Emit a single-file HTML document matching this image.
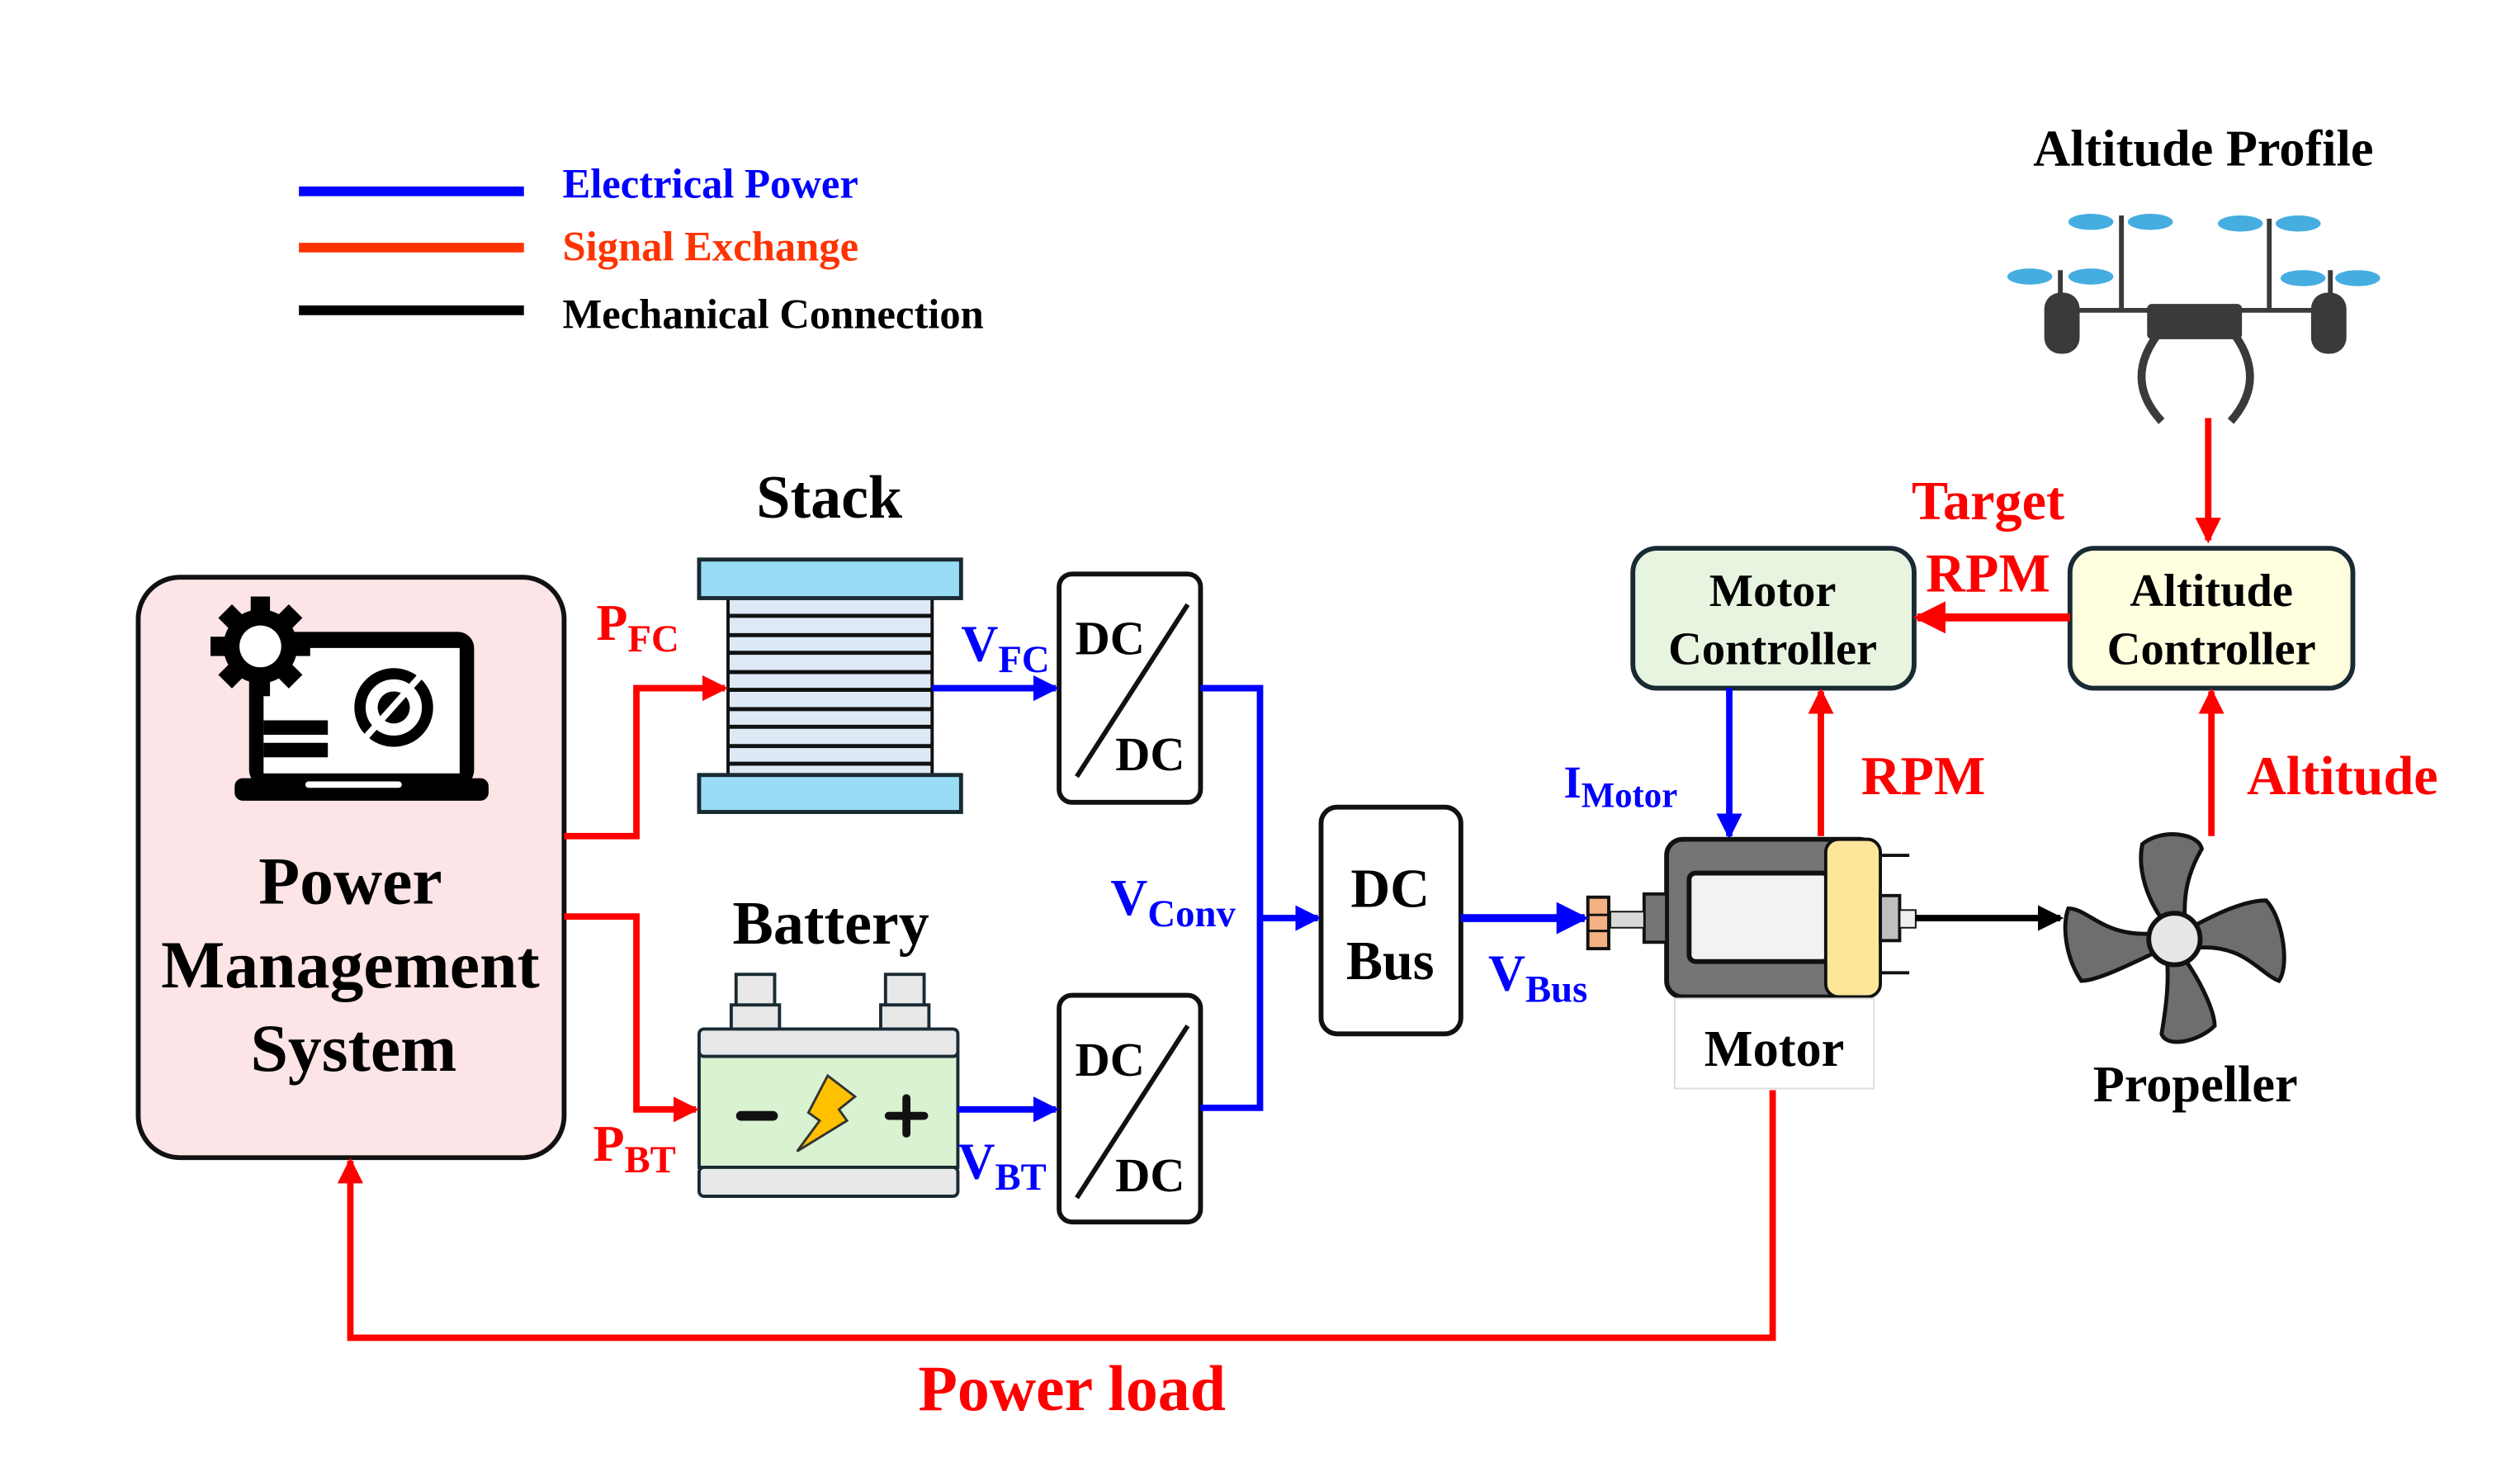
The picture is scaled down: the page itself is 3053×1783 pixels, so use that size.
<!DOCTYPE html>
<html><head><meta charset="utf-8"><style>
html,body{margin:0;padding:0;background:#fff;}
svg{display:block;}
text{font-family:"Liberation Serif",serif;font-weight:bold;}
</style></head><body>
<svg width="3053" height="1783" viewBox="0 0 1568 915.5" preserveAspectRatio="none" xmlns="http://www.w3.org/2000/svg">
<defs>
<marker id="ar" markerWidth="4" markerHeight="4" refX="3.5" refY="2" orient="auto" markerUnits="strokeWidth"><path d="M0,0 L4,2 L0,4 Z" fill="#ff0000"/></marker>
<marker id="ab" markerWidth="4" markerHeight="4" refX="3.5" refY="2" orient="auto" markerUnits="strokeWidth"><path d="M0,0 L4,2 L0,4 Z" fill="#0000ff"/></marker>
<marker id="ak" markerWidth="4" markerHeight="4" refX="3.5" refY="2" orient="auto" markerUnits="strokeWidth"><path d="M0,0 L4,2 L0,4 Z" fill="#000"/></marker>
</defs>
<rect width="1600" height="920" fill="#fff"/>
<!-- legend -->
<line x1="186" y1="119" x2="326" y2="119" stroke="#0000ff" stroke-width="6"/>
<line x1="186" y1="154" x2="326" y2="154" stroke="#ff3300" stroke-width="6"/>
<line x1="186" y1="193" x2="326" y2="193" stroke="#000" stroke-width="6"/>
<text x="350" y="123" font-size="26" fill="#0000ff">Electrical Power</text>
<text x="350" y="162" font-size="26" fill="#ff3300">Signal Exchange</text>
<text x="350" y="204" font-size="26" fill="#000">Mechanical Connection</text>

<!-- altitude profile & drone -->
<text x="1371" y="103" font-size="32" text-anchor="middle">Altitude Profile</text>
<g fill="#45ade0">
<ellipse cx="1301" cy="138" rx="14" ry="5"/><ellipse cx="1338" cy="138" rx="14" ry="5"/>
<ellipse cx="1394" cy="139" rx="14" ry="5"/><ellipse cx="1430" cy="139" rx="14" ry="5"/>
<ellipse cx="1263" cy="172" rx="14" ry="5"/><ellipse cx="1301" cy="172" rx="14" ry="5"/>
<ellipse cx="1433" cy="173" rx="14" ry="5"/><ellipse cx="1467" cy="173" rx="14" ry="5"/>
</g>
<g stroke="#3a3a3a" stroke-width="3" fill="none">
<line x1="1320" y1="134" x2="1320" y2="194"/><line x1="1412" y1="136" x2="1412" y2="194"/>
<line x1="1282" y1="168" x2="1282" y2="186"/><line x1="1450" y1="168" x2="1450" y2="186"/>
<line x1="1283" y1="193" x2="1450" y2="193"/>
<path d="M1345,205 Q1320,235 1345,262" stroke-width="5"/>
<path d="M1388,205 Q1412,235 1388,262" stroke-width="5"/>
</g>
<rect x="1272" y="182" width="22" height="38" rx="10" fill="#3a3a3a"/>
<rect x="1438" y="182" width="22" height="38" rx="10" fill="#3a3a3a"/>
<rect x="1336" y="189" width="59" height="22" rx="3" fill="#3a3a3a"/>

<line x1="1374" y1="260" x2="1374" y2="336" stroke="#ff0000" stroke-width="4" marker-end="url(#ar)"/>
<text x="1237" y="323" font-size="34" fill="#ff0000" text-anchor="middle">Target</text>
<text x="1237" y="368" font-size="34" fill="#ff0000" text-anchor="middle">RPM</text>

<!-- controllers -->
<rect x="1016" y="341" width="175" height="87" rx="15" fill="#e6f4e0" stroke="#1a2a33" stroke-width="3"/>
<text x="1103" y="377" font-size="29" text-anchor="middle">Motor</text>
<text x="1103" y="413" font-size="29" text-anchor="middle">Controller</text>
<rect x="1288" y="341" width="176" height="87" rx="15" fill="#ffffe0" stroke="#1a2a33" stroke-width="3"/>
<text x="1376" y="377" font-size="29" text-anchor="middle">Altitude</text>
<text x="1376" y="413" font-size="29" text-anchor="middle">Controller</text>
<line x1="1288" y1="384" x2="1193" y2="384" stroke="#ff0000" stroke-width="5" marker-end="url(#ar)"/>

<line x1="1076" y1="428" x2="1076" y2="520" stroke="#0000ff" stroke-width="4" marker-end="url(#ab)"/>
<line x1="1133" y1="520" x2="1133" y2="430" stroke="#ff0000" stroke-width="4" marker-end="url(#ar)"/>
<line x1="1376" y1="520" x2="1376" y2="430" stroke="#ff0000" stroke-width="4" marker-end="url(#ar)"/>
<text x="973" y="496" font-size="28" fill="#0000ff">I<tspan font-size="22" dy="6">Motor</tspan></text>
<text x="1158" y="494" font-size="34" fill="#ff0000">RPM</text>
<text x="1398" y="494" font-size="34" fill="#ff0000">Altitude</text>

<!-- motor -->
<rect x="1037" y="522" width="130" height="98" rx="10" fill="#757575" stroke="#111" stroke-width="3"/>
<rect x="1051" y="543" width="87" height="55" rx="4" fill="#f2f2f2" stroke="#111" stroke-width="3"/>
<rect x="1136" y="522" width="34" height="98" rx="8" fill="#fde69a" stroke="#111" stroke-width="2"/>
<line x1="1170" y1="532" x2="1188" y2="532" stroke="#111" stroke-width="2"/>
<line x1="1170" y1="605" x2="1188" y2="605" stroke="#111" stroke-width="2"/>
<rect x="1023" y="556" width="14" height="30" fill="#757575" stroke="#111" stroke-width="2"/>
<rect x="1002" y="567" width="21" height="10" fill="#d9d9d9" stroke="#111" stroke-width="1"/>
<rect x="988" y="558" width="13" height="32" fill="#f4b183" stroke="#111" stroke-width="2"/>
<line x1="988" y1="569" x2="1001" y2="569" stroke="#111" stroke-width="1.5"/>
<line x1="988" y1="579" x2="1001" y2="579" stroke="#111" stroke-width="1.5"/>
<rect x="1170" y="557" width="12" height="28" fill="#bfbfbf" stroke="#111" stroke-width="2"/>
<rect x="1182" y="566" width="10" height="11" fill="#eee" stroke="#111" stroke-width="1"/>
<rect x="1042" y="621" width="124" height="56" fill="#fff" stroke="#ddd" stroke-width="1"/>
<text x="1104" y="663" font-size="32" text-anchor="middle">Motor</text>
<line x1="1192" y1="571" x2="1282" y2="571" stroke="#000" stroke-width="4" marker-end="url(#ak)"/>

<!-- propeller -->
<g fill="#6e6e6e" stroke="#111" stroke-width="2.5">
<path d="M1350,578 C1335,560 1330,540 1333,525 C1345,515 1368,518 1370,528 C1360,545 1358,560 1360,580 Z"/>
<path d="M1358,580 C1375,570 1395,560 1410,560 C1420,570 1425,600 1418,610 C1405,605 1395,585 1362,590 Z"/>
<path d="M1356,592 C1370,610 1378,630 1378,638 C1368,648 1348,652 1345,643 C1348,625 1350,610 1348,590 Z"/>
<path d="M1346,590 C1325,600 1305,610 1295,610 C1285,595 1283,575 1287,565 C1300,565 1310,585 1345,580 Z"/>
</g>
<circle cx="1353" cy="584" r="16" fill="#e6e6e6" stroke="#111" stroke-width="3"/>
<text x="1366" y="685" font-size="32" text-anchor="middle">Propeller</text>

<!-- DC bus -->
<rect x="822" y="502" width="87" height="141" rx="10" fill="#fff" stroke="#111" stroke-width="3"/>
<text x="865" y="564" font-size="34" text-anchor="middle">DC</text>
<text x="865" y="609" font-size="34" text-anchor="middle">Bus</text>
<line x1="909" y1="571" x2="986" y2="571" stroke="#0000ff" stroke-width="5" marker-end="url(#ab)"/>
<text x="926" y="616" font-size="32" fill="#0000ff">V<tspan font-size="24" dy="7">Bus</tspan></text>

<!-- DC/DC -->
<g>
<rect x="659" y="357" width="88" height="142" rx="8" fill="#fff" stroke="#111" stroke-width="3"/>
<line x1="739" y1="376" x2="670" y2="483" stroke="#111" stroke-width="3"/>
<text x="669" y="407" font-size="30">DC</text>
<text x="694" y="479" font-size="30">DC</text>
<rect x="659" y="619" width="88" height="141" rx="8" fill="#fff" stroke="#111" stroke-width="3"/>
<line x1="739" y1="638" x2="670" y2="745" stroke="#111" stroke-width="3"/>
<text x="669" y="669" font-size="30">DC</text>
<text x="694" y="741" font-size="30">DC</text>
</g>
<polyline points="747,428 784,428 784,689 747,689" fill="none" stroke="#0000ff" stroke-width="4"/>
<line x1="784" y1="571" x2="820" y2="571" stroke="#0000ff" stroke-width="4" marker-end="url(#ab)"/>
<text x="691" y="569" font-size="32" fill="#0000ff">V<tspan font-size="24" dy="7">Conv</tspan></text>

<!-- stack -->
<text x="516" y="322" font-size="38" text-anchor="middle">Stack</text>
<rect x="453" y="371" width="127" height="111" fill="#dde9f5" stroke="#111" stroke-width="2"/>
<g stroke="#111" stroke-width="2.5">
<line x1="453" y1="383" x2="580" y2="383"/><line x1="453" y1="395" x2="580" y2="395"/>
<line x1="453" y1="406" x2="580" y2="406"/><line x1="453" y1="418" x2="580" y2="418"/>
<line x1="453" y1="429" x2="580" y2="429"/><line x1="453" y1="441" x2="580" y2="441"/>
<line x1="453" y1="452" x2="580" y2="452"/><line x1="453" y1="464" x2="580" y2="464"/>
<line x1="453" y1="475" x2="580" y2="475"/>
</g>
<rect x="435" y="348" width="163" height="24" fill="#99dcf5" stroke="#1a2a33" stroke-width="2.5"/>
<rect x="435" y="482" width="163" height="23" fill="#99dcf5" stroke="#1a2a33" stroke-width="2.5"/>
<line x1="580" y1="428" x2="657" y2="428" stroke="#0000ff" stroke-width="4" marker-end="url(#ab)"/>
<text x="598" y="411" font-size="32" fill="#0000ff">V<tspan font-size="24" dy="7">FC</tspan></text>

<!-- battery -->
<text x="517" y="587" font-size="38" text-anchor="middle">Battery</text>
<rect x="458" y="606" width="24" height="20" fill="#e8e8e8" stroke="#1a2a33" stroke-width="2"/>
<rect x="455" y="625" width="30" height="15" fill="#e8e8e8" stroke="#1a2a33" stroke-width="2"/>
<rect x="551" y="606" width="24" height="20" fill="#e8e8e8" stroke="#1a2a33" stroke-width="2"/>
<rect x="548" y="625" width="30" height="15" fill="#e8e8e8" stroke="#1a2a33" stroke-width="2"/>
<rect x="435" y="655" width="161" height="71" fill="#d9f2d0" stroke="#1a2a33" stroke-width="2"/>
<rect x="435" y="640" width="161" height="17" rx="3" fill="#e8e8e8" stroke="#1a2a33" stroke-width="2"/>
<rect x="435" y="726" width="161" height="18" rx="3" fill="#e8e8e8" stroke="#1a2a33" stroke-width="2"/>
<line x1="461" y1="694" x2="481" y2="694" stroke="#111" stroke-width="6" stroke-linecap="round"/>
<line x1="553" y1="694" x2="575" y2="694" stroke="#111" stroke-width="5" stroke-linecap="round"/>
<line x1="564" y1="683" x2="564" y2="705" stroke="#111" stroke-width="5" stroke-linecap="round"/>
<path d="M515,669 L532,682 L522,690 L527,697 L496,716 L510,697 L503,692 Z" fill="#ffc000" stroke="#333" stroke-width="1.5"/>
<line x1="596" y1="690" x2="657" y2="690" stroke="#0000ff" stroke-width="4" marker-end="url(#ab)"/>
<text x="596" y="733" font-size="32" fill="#0000ff">V<tspan font-size="24" dy="7">BT</tspan></text>

<!-- PMS -->
<rect x="86" y="359" width="265" height="361" rx="26" fill="#fde4e6" stroke="#111" stroke-width="3"/>
<rect x="155" y="393" width="140" height="96" rx="10" fill="#000"/>
<rect x="164" y="403" width="122" height="78" fill="#fff"/>
<rect x="146" y="484" width="158" height="14" rx="5" fill="#000"/>
<rect x="190" y="486" width="60" height="4" rx="2" fill="#fff"/>
<rect x="164" y="448" width="40" height="9" fill="#000"/>
<rect x="164" y="462" width="40" height="9" fill="#000"/>
<circle cx="245" cy="440" r="21" fill="none" stroke="#000" stroke-width="7"/>
<circle cx="245" cy="440" r="10" fill="#000"/>
<line x1="228" y1="458" x2="262" y2="420" stroke="#fff" stroke-width="4"/>
<g transform="translate(162,402)">
<g fill="#000">
<circle r="23"/>
<rect x="-6" y="-31" width="12" height="62"/><rect x="-31" y="-6" width="62" height="12"/>
<rect x="-6" y="-31" width="12" height="62" transform="rotate(45)"/><rect x="-6" y="-31" width="12" height="62" transform="rotate(-45)"/>
</g>
<circle r="13" fill="#fff"/>
</g>
<text x="218" y="562" font-size="42" text-anchor="middle">Power</text>
<text x="218" y="614" font-size="42" text-anchor="middle">Management</text>
<text x="220" y="666" font-size="42" text-anchor="middle">System</text>

<polyline points="351,520 396,520 396,428 451,428" fill="none" stroke="#ff0000" stroke-width="4" marker-end="url(#ar)"/>
<polyline points="351,570 396,570 396,690 433,690" fill="none" stroke="#ff0000" stroke-width="4" marker-end="url(#ar)"/>
<text x="371" y="398" font-size="32" fill="#ff0000">P<tspan font-size="24" dy="7">FC</tspan></text>
<text x="369" y="722" font-size="32" fill="#ff0000">P<tspan font-size="24" dy="7">BT</tspan></text>

<!-- power load -->
<polyline points="1103,678 1103,832 218,832 218,722" fill="none" stroke="#ff0000" stroke-width="4" marker-end="url(#ar)"/>
<text x="667" y="877" font-size="40" fill="#ff0000" text-anchor="middle">Power load</text>
</svg>
</body></html>
